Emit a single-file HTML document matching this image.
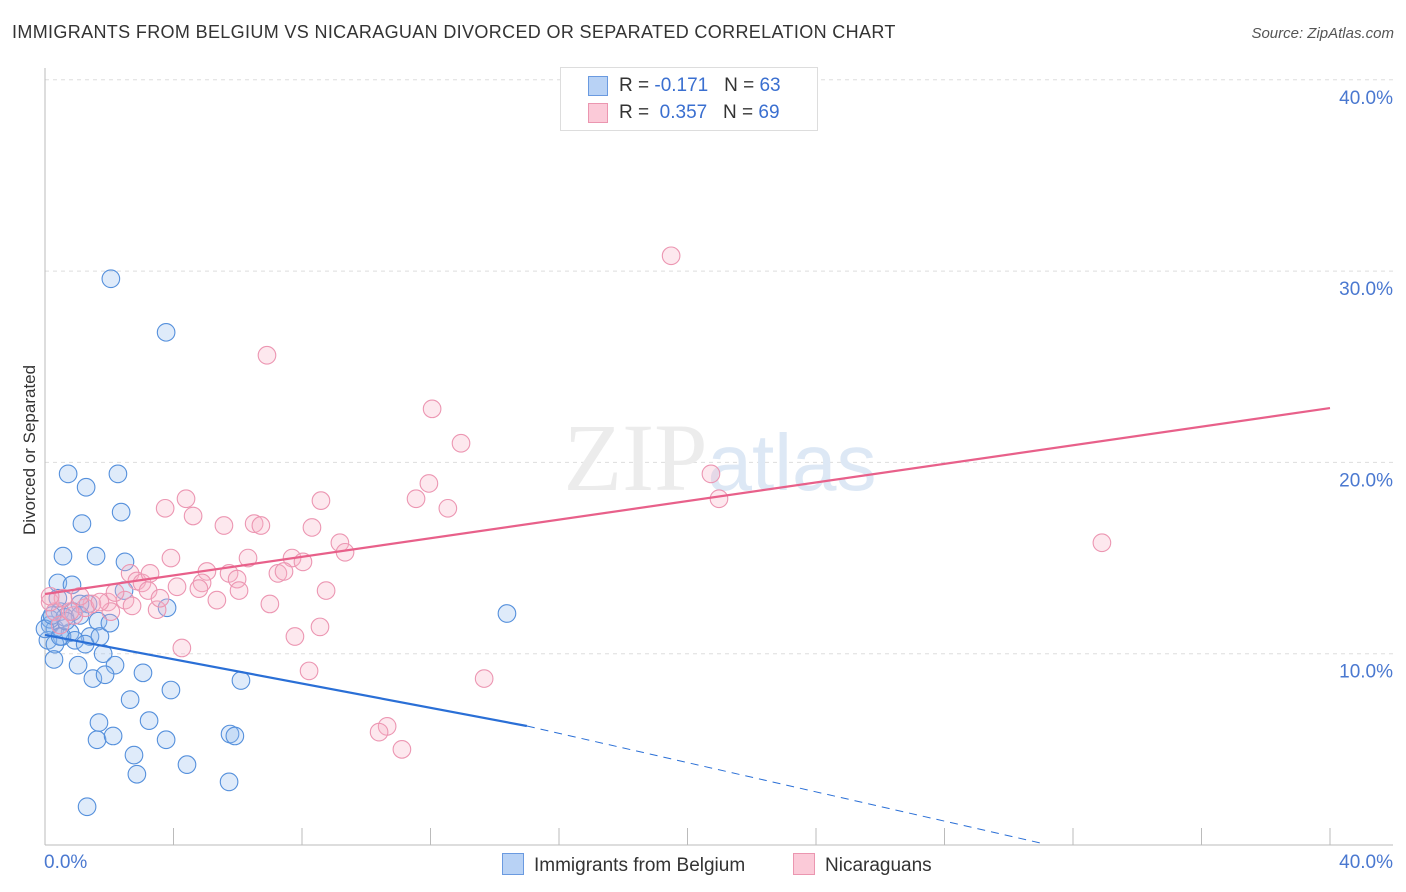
<!DOCTYPE html>
<html><head><meta charset="utf-8"><style>
body{margin:0;background:#fff;font-family:"Liberation Sans",sans-serif}
#c{position:relative;width:1406px;height:892px;overflow:hidden}
.t{position:absolute;white-space:nowrap}
</style></head><body>
<div id="c">
<div class="t" style="left:12px;top:22px;font-size:18px;color:#333;letter-spacing:0.35px">IMMIGRANTS FROM BELGIUM VS NICARAGUAN DIVORCED OR SEPARATED CORRELATION CHART</div>
<div class="t" style="right:12px;top:25px;font-size:15px;color:#555;font-style:italic">Source: ZipAtlas.com</div>
<svg id="s" width="1406" height="892" style="position:absolute;left:0;top:0"></svg>
</div>
<script>
const yTicks=[10,20,30,40];
const yTickLabels=["10.0%","20.0%","30.0%","40.0%"];
const blueX=[2.05,3.77,0.72,2.27,1.28,2.37,1.15,0.56,1.59,2.49,0.40,0.84,2.46,3.80,1.34,14.38,1.09,0.47,0.87,1.65,0.16,0.31,0.78,1.40,0.53,0.09,0.31,0.93,1.25,0.28,1.03,1.81,2.18,1.49,1.87,3.05,3.92,6.10,2.65,1.68,3.24,1.62,2.12,3.77,5.76,5.91,2.77,4.42,2.86,5.73,1.31,0.16,0.62,0.0,0.47,1.09,0.65,0.22,1.71,0.40,2.02];
const blueY=[29.6,26.8,19.4,19.4,18.7,17.4,16.8,15.1,15.1,14.8,13.7,13.6,13.3,12.4,12.6,12.1,12.6,12.2,12.2,11.7,11.5,11.3,11.1,10.9,10.9,10.7,10.5,10.7,10.5,9.7,9.4,10.0,9.4,8.7,8.9,9.0,8.1,8.6,7.6,6.4,6.5,5.5,5.7,5.5,5.8,5.7,4.7,4.2,3.7,3.3,2.0,11.8,11.9,11.3,10.9,12.0,11.7,12.0,10.9,12.9,11.6];
const pinkX=[19.49,6.91,12.05,12.95,20.73,11.95,11.55,20.98,4.39,8.59,3.74,12.54,4.61,5.57,6.51,6.72,8.31,9.18,32.90,9.34,3.92,6.32,7.69,8.03,2.65,5.04,7.25,7.44,5.73,5.98,2.86,3.02,4.89,4.11,4.79,6.04,3.21,2.49,5.35,8.75,7.00,1.96,2.71,1.46,2.05,3.49,0.90,0.31,0.47,7.78,8.56,4.26,8.22,13.67,10.65,10.40,11.11,0.16,1.25,0.78,1.71,0.56,1.09,2.18,3.58,3.27,0.16];
const pinkY=[30.8,25.6,22.8,21.0,19.4,18.9,18.1,18.1,18.1,18.0,17.6,17.6,17.2,16.7,16.8,16.7,16.6,15.8,15.8,15.3,15.0,15.0,15.0,14.8,14.2,14.3,14.2,14.3,14.2,13.9,13.8,13.7,13.7,13.5,13.4,13.3,13.3,12.8,12.8,13.3,12.6,12.7,12.5,12.6,12.2,12.3,12.0,12.2,11.5,10.9,11.4,10.3,9.1,8.7,6.2,5.9,5.0,12.7,12.4,12.2,12.7,12.9,13.0,13.2,12.9,14.2,13.0];
const pinkLine=[[0,13.12],[40,22.84]];
const blueSolid=[[0,10.98],[15,6.22]];
const blueDash=[[15,6.22],[31,0.1]];
const X=v=>45+v*32.125, Y=v=>845-v*19.13;
const s=document.getElementById('s');const NS='http://www.w3.org/2000/svg';
function mk(t,a,nm){const e=document.createElementNS(NS,t);for(const k in a)e.setAttribute(k,a[k]);


s.appendChild(e);return e;}
yTicks.forEach((v,i)=>{mk('line',{x1:45,x2:1393,y1:Y(v),y2:Y(v),stroke:'#ddd','stroke-dasharray':'4,4'},'gridline');
const t=mk('text',{x:1393,y:Y(v)+24,'text-anchor':'end','font-size':19,fill:'#4a78d0','font-family':'Liberation Sans'},'y-tick-label');t.textContent=yTickLabels[i];});
mk('line',{x1:45,x2:45,y1:68,y2:845,stroke:'#bbb'},'y-axis-line');
mk('line',{x1:45,x2:1393,y1:845,y2:845,stroke:'#bbb'},'x-axis-line');
for(let k=1;k<=10;k++)mk('line',{x1:X(k*4),x2:X(k*4),y1:828,y2:845,stroke:'#bbb'},'x-tick');
const wm=mk('text',{x:720,y:490,'text-anchor':'middle','font-size':96,fill:'#ececec','font-family':'Liberation Serif'},'watermark');wm.innerHTML='ZIP<tspan fill="#dde8f5" font-family="Liberation Sans" font-size="80">atlas</tspan>';
blueX.forEach((x,i)=>mk('circle',{cx:X(x),cy:Y(blueY[i]),r:8.8,fill:'rgba(150,190,240,0.3)',stroke:'#5590dc','stroke-width':1.1},'blue-point'));
pinkX.forEach((x,i)=>mk('circle',{cx:X(x),cy:Y(pinkY[i]),r:8.8,fill:'rgba(248,180,200,0.3)',stroke:'#ec96b2','stroke-width':1.1},'pink-point'));
mk('line',{x1:X(pinkLine[0][0]),y1:Y(pinkLine[0][1]),x2:X(pinkLine[1][0]),y2:Y(pinkLine[1][1]),stroke:'#e8608a','stroke-width':2.2},'pink-trend-line');
mk('line',{x1:X(blueSolid[0][0]),y1:Y(blueSolid[0][1]),x2:X(blueSolid[1][0]),y2:Y(blueSolid[1][1]),stroke:'#2a6fd6','stroke-width':2.2},'blue-trend-line');
mk('line',{x1:X(blueDash[0][0]),y1:Y(blueDash[0][1]),x2:X(blueDash[1][0]),y2:Y(blueDash[1][1]),stroke:'#2a6fd6','stroke-width':1,'stroke-dasharray':'8,6'},'blue-trend-extension');
</script>
<div class="t" style="left:44px;top:852px;font-size:19px;color:#4a78d0">0.0%</div>
<div class="t" style="right:13px;top:852px;font-size:19px;color:#4a78d0">40.0%</div>
<div class="t" style="left:-50px;top:445px;width:160px;text-align:center;font-size:17px;color:#333;transform:rotate(-90deg)">Divorced or Separated</div>
<div style="position:absolute;left:560px;top:67px;width:256px;height:62px;border:1px solid #ddd;background:#fff;font-size:19px;color:#333">
<div style="position:absolute;left:27px;top:8px;width:18px;height:18px;background:#b8d2f5;border:1px solid #6a9ae0"></div>
<div class="t" style="left:58px;top:7px">R = <span style="color:#3a6fd0">-0.171</span>&nbsp;&nbsp;&nbsp;N = <span style="color:#3a6fd0">63</span></div>
<div style="position:absolute;left:27px;top:35px;width:18px;height:18px;background:#fbcad8;border:1px solid #eb96b0"></div>
<div class="t" style="left:58px;top:34px">R = &nbsp;<span style="color:#3a6fd0">0.357</span>&nbsp;&nbsp;&nbsp;N = <span style="color:#3a6fd0">69</span></div>
</div>
<div style="position:absolute;left:502px;top:853px;font-size:19px;color:#333">
<span style="display:inline-block;width:20px;height:20px;background:#b8d2f5;border:1px solid #6a9ae0;vertical-align:-4px;margin-right:10px"></span>Immigrants from Belgium</div>
<div style="position:absolute;left:793px;top:853px;font-size:19px;color:#333">
<span style="display:inline-block;width:20px;height:20px;background:#fbcad8;border:1px solid #eb96b0;vertical-align:-4px;margin-right:10px"></span>Nicaraguans</div>
</body></html>
